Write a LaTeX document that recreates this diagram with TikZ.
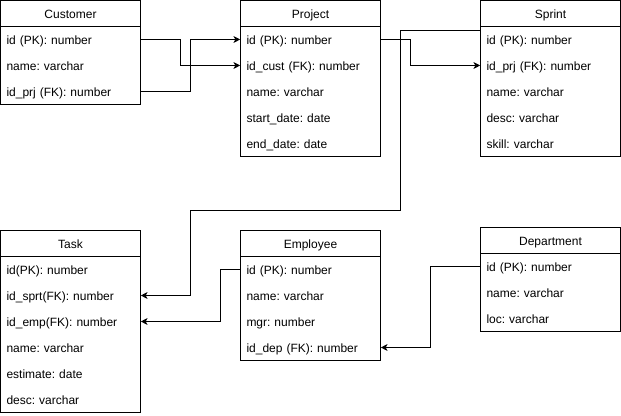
\documentclass[tikz,border=0pt]{standalone}
\usepackage{fontspec}
\setmainfont{Liberation Sans}
\usetikzlibrary{arrows.meta}
\begin{document}
\frenchspacing
\begin{tikzpicture}[x=0.75pt,y=-0.75pt,
  font=\fontsize{9}{11}\selectfont,
  every node/.style={inner sep=0pt},
  head/.style={draw, line width=0.75pt, minimum width=105pt, minimum height=19.5pt, text height=8.8pt, text depth=2pt},
  body/.style={draw, line width=0.75pt, minimum width=105pt, anchor=north},
  field/.style={minimum height=19.5pt, text width=96pt, inner xsep=4.5pt, align=left, text height=8.8pt, text depth=2pt},
  conn/.style={draw, line width=0.75pt, -{Stealth[length=5pt,width=5pt,inset=1.3pt]}}]
\useasboundingbox (0,0) rectangle (621,416);

% Customer
\node[body, minimum height=58.5pt] (cust-b) at (70.5,26.5) {};
\node[head] (cust-h) at (70.5,13.5) {Customer};
\node[field] (cust-id) at (70.5,39.5) {id (PK): number};
\node[field] (cust-nm) at (70.5,65.5) {name: varchar};
\node[field] (cust-idp) at (70.5,91.5) {id\_prj (FK): number};

% Project
\node[body, minimum height=97.5pt] (proj-b) at (310.5,26.5) {};
\node[head] (proj-h) at (310.5,13.5) {Project};
\node[field] (proj-id) at (310.5,39.5) {id (PK): number};
\node[field] (proj-idc) at (310.5,65.5) {id\_cust (FK): number};
\node[field] (proj-nm) at (310.5,91.5) {name: varchar};
\node[field] (proj-sd) at (310.5,117.5) {start\_date: date};
\node[field] (proj-ed) at (310.5,143.5) {end\_date: date};

% Sprint
\node[body, minimum height=97.5pt] (spr-b) at (550.5,26.5) {};
\node[head] (spr-h) at (550.5,13.5) {Sprint};
\node[field] (spr-id) at (550.5,39.5) {id (PK): number};
\node[field] (spr-idp) at (550.5,65.5) {id\_prj (FK): number};
\node[field] (spr-nm) at (550.5,91.5) {name: varchar};
\node[field] (spr-ds) at (550.5,117.5) {desc: varchar};
\node[field] (spr-sk) at (550.5,143.5) {skill: varchar};

% Task
\node[body, minimum height=117pt] (task-b) at (70.5,256.5) {};
\node[head] (task-h) at (70.5,243.5) {Task};
\node[field] (task-id) at (70.5,269.5) {id(PK): number};
\node[field] (task-sprt) at (70.5,295.5) {id\_sprt(FK): number};
\node[field] (task-emp) at (70.5,321.5) {id\_emp(FK): number};
\node[field] (task-nm) at (70.5,347.5) {name: varchar};
\node[field] (task-es) at (70.5,373.5) {estimate: date};
\node[field] (task-ds) at (70.5,399.5) {desc: varchar};

% Employee
\node[body, minimum height=78pt] (emp-b) at (310.5,256.5) {};
\node[head] (emp-h) at (310.5,243.5) {Employee};
\node[field] (emp-id) at (310.5,269.5) {id (PK): number};
\node[field] (emp-nm) at (310.5,295.5) {name: varchar};
\node[field] (emp-mgr) at (310.5,321.5) {mgr: number};
\node[field] (emp-dep) at (310.5,347.5) {id\_dep (FK): number};

% Department
\node[body, minimum height=58.5pt] (dep-b) at (550.5,253.5) {};
\node[head] (dep-h) at (550.5,240.5) {Department};
\node[field] (dep-id) at (550.5,266.5) {id (PK): number};
\node[field] (dep-nm) at (550.5,292.5) {name: varchar};
\node[field] (dep-loc) at (550.5,318.5) {loc: varchar};

% connectors
\draw[conn] (cust-id.east) -- ++(40,0) |- (proj-idc.west);
\draw[conn] (cust-idp.east) -- ++(50,0) |- (proj-id.west);
\draw[conn] (proj-id.east) -- ++(30,0) |- (spr-idp.west);
\draw[conn] ([yshift=-3pt]spr-id.north west) -- ++(-80,0) -- ++(0,180) -- ++(-210,0) |- (task-sprt.east);
\draw[conn] (emp-id.west) -- ++(-20,0) |- (task-emp.east);
\draw[conn] (dep-id.west) -- ++(-50,0) |- (emp-dep.east);
\end{tikzpicture}
\end{document}
